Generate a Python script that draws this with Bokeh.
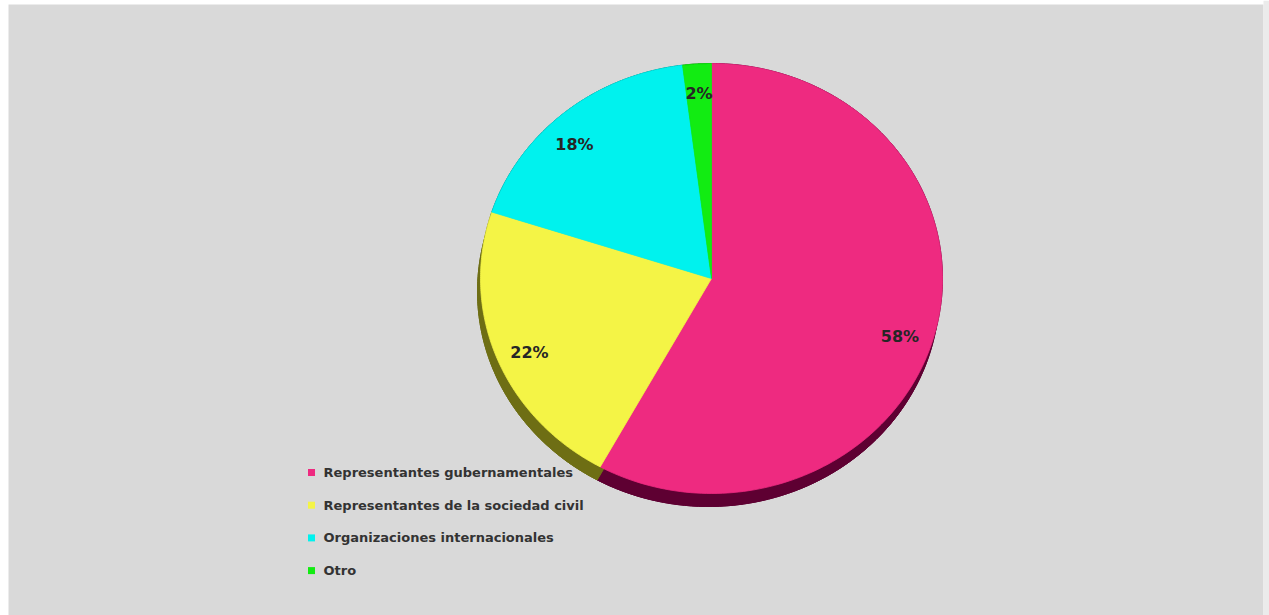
import numpy as np
from bokeh.plotting import figure
from bokeh.models import Range1d, ColumnDataSource
from bokeh.core.properties import value
from bokeh.embed import file_html
from bokeh.resources import INLINE

# ---- data ----
categories = ["Representantes gubernamentales",
              "Representantes de la sociedad civil",
              "Organizaciones internacionales",
              "Otro"]
shares = [58, 22, 18, 2]
labels = ["58%", "22%", "18%", "2%"]
colors = ["#EE2A80", "#F4F446", "#00F2EE", "#12EC12"]
side_colors = ["#5E0032", "#6E6E14", "#007070", "#087008"]

# ---- layout ----
W, H = 1269, 615
cx, cy = 711, 278          # pie centre (plot units = pixels, y down)
rx, ry = 231, 215          # ellipse radii of the top face
dx, dy = -3, 13            # extrusion offset of the side
label_frac = 0.86
label_nudge = [4, -2, -4, 0]  # degrees

p = figure(width=W, height=H, output_backend="svg", toolbar_location=None,
           x_range=Range1d(0, W), y_range=Range1d(H, 0),
           min_border=0, background_fill_color="#FFFFFF",
           border_fill_color="#FFFFFF", outline_line_color=None)
p.axis.visible = False
p.grid.visible = False

# panel background
p.quad(left=[8], right=[1263], top=[4], bottom=[H], fill_color="#D9D9D9",
       line_color=None)
p.quad(left=[1263], right=[W], top=[0], bottom=[H], fill_color="#EBEBEB",
       line_color=None)

total = float(sum(shares))
bounds = np.concatenate([[0], np.cumsum(shares)]) / total * 360.0

def pt(a_deg, f=1.0):
    a = np.radians(a_deg)
    return cx + f * rx * np.sin(a), cy - f * ry * np.cos(a)

# side bands
sx, sy, sc = [], [], []
for i in range(len(shares)):
    a = np.linspace(bounds[i], bounds[i + 1], 120)
    x, y = pt(a)
    sx.append(np.concatenate([x, (x + dx)[::-1]]).tolist())
    sy.append(np.concatenate([y, (y + dy)[::-1]]).tolist())
    sc.append(side_colors[i])
p.patches(xs=sx, ys=sy, fill_color=sc, line_color=sc, line_width=1)
# shifted bottom face
bx_, by_ = [], []
for i in range(len(shares)):
    a = np.linspace(bounds[i], bounds[i + 1], 120)
    x, y = pt(a)
    bx_.append(np.concatenate([[cx + dx], x + dx]).tolist())
    by_.append(np.concatenate([[cy + dy], y + dy]).tolist())
p.patches(xs=bx_, ys=by_, fill_color=sc, line_color=sc, line_width=1)

# top face
tx, ty = [], []
for i in range(len(shares)):
    a = np.linspace(bounds[i], bounds[i + 1], 160)
    x, y = pt(a)
    tx.append(np.concatenate([[cx], x]).tolist())
    ty.append(np.concatenate([[cy], y]).tolist())
p.patches(xs=tx, ys=ty, fill_color=colors, line_color=colors, line_width=0.8)

# labels
mids = (bounds[:-1] + bounds[1:]) / 2 + np.array(label_nudge)
lx, ly = pt(mids, label_frac)
src = ColumnDataSource(dict(x=lx, y=ly, t=labels))
p.text(x="x", y="y", text="t", source=src, text_align="center",
       text_baseline="middle", text_font=value("DejaVu Sans"),
       text_font_style="bold", text_font_size="16px", text_color="#262626")

# legend (manual)
leg_x, leg_y, leg_step = 311, 472, 32.7
ly2 = [leg_y + i * leg_step for i in range(len(categories))]
p.scatter(x=[leg_x] * len(categories), y=ly2, marker="square", size=7,
          fill_color=colors, line_color=None)
p.text(x=[leg_x + 12] * len(categories), y=ly2, text=categories,
       text_align="left", text_baseline="middle",
       text_font=value("DejaVu Sans"), text_font_style="bold",
       text_font_size="13px", text_color="#333333")

open("out.html", "w").write(file_html(p, INLINE))
